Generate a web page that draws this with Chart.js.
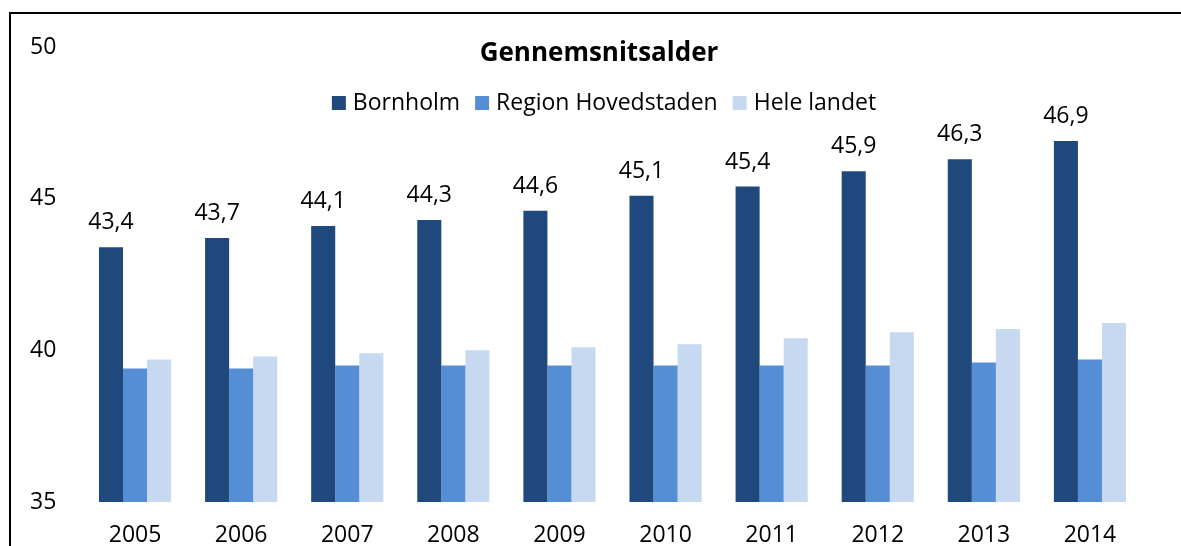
<!DOCTYPE html>
<html>
<head>
<meta charset="utf-8">
<script src="https://cdn.jsdelivr.net/npm/chart.js@4"></script>
<style>
  html, body { margin: 0; padding: 0; background: #fff; overflow: hidden; }
  #wrap { position: relative; width: 1181px; height: 546px; }
  #frame { position: absolute; left: 9px; top: 12px; width: 1400px; height: 800px; border: 2px solid #000; }
  #chart { position: absolute; left: 0; top: 0; }
</style>
</head>
<body>
<div id="wrap">
  <div id="frame"></div>
  <canvas id="chart" width="1181" height="546"></canvas>
</div>
<script>
const title = 'Gennemsnitsalder';
const years = ['2005', '2006', '2007', '2008', '2009', '2010', '2011', '2012', '2013', '2014'];
const bornholm = [43.4, 43.7, 44.1, 44.3, 44.6, 45.1, 45.4, 45.9, 46.3, 46.9];
const hovedstaden = [39.4, 39.4, 39.5, 39.5, 39.5, 39.5, 39.5, 39.5, 39.6, 39.7];
const heleLandet = [39.7, 39.8, 39.9, 40.0, 40.1, 40.2, 40.4, 40.6, 40.7, 40.9];
const yTicks = [35, 40, 45, 50];

const FONT = '"Open Sans", "Liberation Sans", sans-serif';

// labels over the Bornholm bars + title and legend drawn inside the plot
const overlay = {
  id: 'overlay',
  afterDatasetsDraw(chart) {
    const ctx = chart.ctx;
    ctx.save();
    ctx.fillStyle = '#000';
    ctx.font = '23px ' + FONT;
    ctx.textAlign = 'center';
    ctx.textBaseline = 'alphabetic';
    chart.getDatasetMeta(0).data.forEach((bar, i) => {
      const txt = bornholm[i].toFixed(1).replace('.', ',');
      ctx.fillText(txt, bar.x, bar.y - 18);
    });

    ctx.font = 'bold 26px ' + FONT;
    ctx.textBaseline = 'middle';
    ctx.fillText(title, 599, 54);

    // legend
    ctx.font = '23px ' + FONT;
    const box = 14, gapText = 7, gapItem = 15;
    const items = chart.data.datasets.map(ds => ({
      label: ds.label, color: ds.backgroundColor,
      w: box + gapText + ctx.measureText(ds.label).width
    }));
    const total = items.reduce((s, it) => s + it.w, 0) + gapItem * (items.length - 1);
    let x = 604 - total / 2;
    const cy = 103;
    ctx.textAlign = 'left';
    items.forEach(it => {
      ctx.fillStyle = it.color;
      ctx.fillRect(x, cy - box / 2, box, box);
      ctx.fillStyle = '#000';
      ctx.fillText(it.label, x + box + gapText, cy);
      x += it.w + gapItem;
    });
    ctx.restore();
  }
};

new Chart(document.getElementById('chart').getContext('2d'), {
  type: 'bar',
  data: {
    labels: years,
    datasets: [
      { label: 'Bornholm', data: bornholm, backgroundColor: '#1f497d' },
      { label: 'Region Hovedstaden', data: hovedstaden, backgroundColor: '#558ed5' },
      { label: 'Hele landet', data: heleLandet, backgroundColor: '#c6d9f1' }
    ]
  },
  options: {
    responsive: false,
    animation: false,
    layout: { padding: { left: 30, top: 47, right: 38, bottom: 0 } },
    datasets: {
      bar: { categoryPercentage: 0.68, barPercentage: 1.0 }
    },
    plugins: {
      legend: { display: false },
      title: { display: false },
      tooltip: { enabled: false }
    },
    scales: {
      x: {
        grid: { display: false, drawTicks: false },
        border: { display: false },
        ticks: { color: '#000', font: { family: FONT, size: 23, lineHeight: 1 }, padding: 22, maxRotation: 0 },
        afterFit(scale) { scale.height = 44; }
      },
      y: {
        min: 35,
        max: 50,
        afterBuildTicks(scale) { scale.ticks = yTicks.map(v => ({ value: v })); },
        grid: { display: false, drawTicks: false },
        border: { display: false },
        ticks: { color: '#000', font: { family: FONT, size: 23 }, crossAlign: 'far', padding: 26 },
        afterFit(scale) { scale.width = 52; }
      }
    }
  },
  plugins: [overlay]
});
</script>
</body>
</html>
